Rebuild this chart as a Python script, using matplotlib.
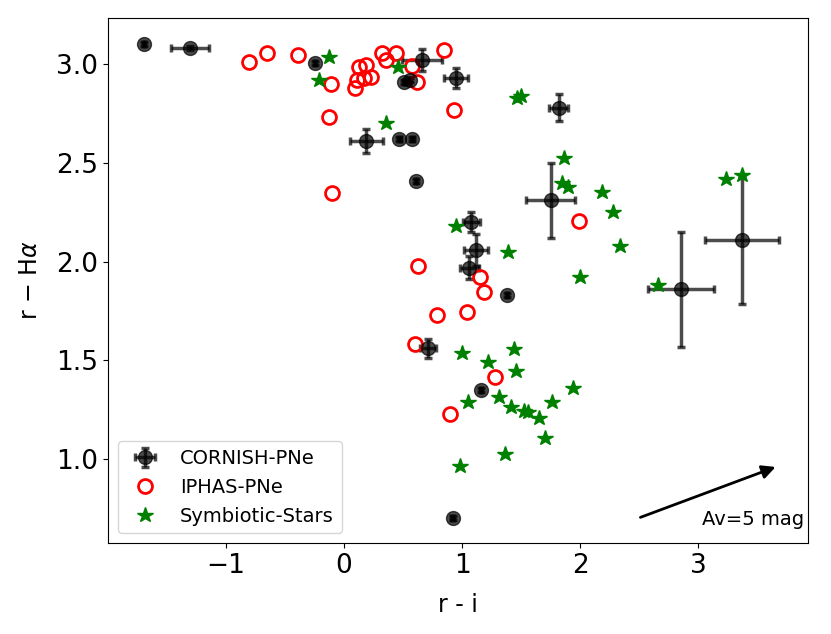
import matplotlib
matplotlib.use('Agg')
import matplotlib.pyplot as plt

# CORNISH-PNe (with errors)
cornish_x = [-1.695, -1.305, -0.246, 0.51, 0.56, 0.66, 0.95, 0.19, 0.47, 0.58,
             0.61, 1.82, 1.75, 1.08, 1.12, 1.06, 1.38, 0.71, 1.16, 0.92,
             2.856, 3.373]
cornish_y = [3.10, 3.08, 3.005, 2.91, 2.92, 3.02, 2.93, 2.61, 2.62, 2.62,
             2.41, 2.78, 2.31, 2.20, 2.06, 1.97, 1.83, 1.56, 1.35, 0.70,
             1.86, 2.11]
cornish_xerr = [0.01, 0.16, 0.01, 0.01, 0.01, 0.17, 0.10, 0.14, 0.01, 0.01,
                0.01, 0.08, 0.21, 0.07, 0.10, 0.08, 0.01, 0.07, 0.01, 0.01,
                0.28, 0.31]
cornish_yerr = [0.01, 0.01, 0.01, 0.01, 0.01, 0.055, 0.05, 0.06, 0.01, 0.01,
                0.01, 0.07, 0.19, 0.05, 0.08, 0.06, 0.01, 0.05, 0.01, 0.01,
                0.29, 0.325]

# IPHAS-PNe
iphas_x = [-0.805, -0.65, -0.39, -0.11, -0.13, -0.10, 0.09, 0.13, 0.19, 0.11,
           0.17, 0.23, 0.32, 0.36, 0.44, 0.58, 0.62, 0.85, 0.93, 1.99,
           0.63, 1.15, 1.19, 0.79, 1.04, 0.60, 1.28, 0.90]
iphas_y = [3.01, 3.055, 3.045, 2.90, 2.73, 2.345, 2.88, 2.985, 2.995, 2.92,
           2.93, 2.935, 3.055, 3.02, 3.055, 2.99, 2.91, 3.07, 2.77, 2.205,
           1.98, 1.92, 1.845, 1.73, 1.745, 1.585, 1.415, 1.23]

# Symbiotic stars
symb_x = [-0.13, -0.21, 0.36, 0.46, 1.465, 1.50, 1.865, 1.85, 1.90, 2.19,
          2.28, 2.34, 3.24, 3.37, 0.95, 1.39, 2.00, 2.66, 1.00, 1.22,
          1.44, 1.46, 1.94, 1.05, 1.31, 1.415, 1.525, 1.56, 1.65, 1.76,
          1.70, 1.365, 0.98]
symb_y = [3.035, 2.92, 2.70, 2.985, 2.83, 2.84, 2.525, 2.40, 2.38, 2.35,
          2.25, 2.08, 2.42, 2.44, 2.18, 2.05, 1.92, 1.88, 1.535, 1.49,
          1.555, 1.445, 1.36, 1.29, 1.315, 1.265, 1.245, 1.24, 1.21, 1.29,
          1.105, 1.025, 0.965]

# extinction vector
av_start = (2.49, 0.70)
av_end = (3.68, 0.965)

fig = plt.figure(figsize=(8.31, 6.34), dpi=100)
ax = fig.add_axes([0.130, 0.1435, 0.842, 0.828])

h1 = ax.errorbar(cornish_x, cornish_y, xerr=cornish_xerr, yerr=cornish_yerr,
                 fmt='o', color='k', ms=10, elinewidth=2.5, capsize=3,
                 capthick=2.5, alpha=0.7, label='CORNISH-PNe')
h2, = ax.plot(iphas_x, iphas_y, 'o', mfc='none', mec='red', mew=2, ms=10,
              ls='none', label='IPHAS-PNe')
h3, = ax.plot(symb_x, symb_y, '*', color='green', ms=11.5, ls='none',
              label='Symbiotic-Stars')

ax.annotate('', xy=av_end, xytext=av_start,
            arrowprops=dict(arrowstyle='-|>', color='k', lw=2,
                            mutation_scale=20))
ax.text(3.9, 0.665, 'Av=5 mag', fontsize=14, ha='right')

ax.set_xlim(-2.0, 3.93)
ax.set_ylim(0.575, 3.233)
ax.set_xticks([-1, 0, 1, 2, 3])
ax.set_yticks([1.0, 1.5, 2.0, 2.5, 3.0])
ax.tick_params(labelsize=19)
ax.set_xlabel('r - i', fontsize=17, labelpad=10)
ax.set_ylabel(r'r $-$ H$\alpha$', fontsize=17, labelpad=10)
ax.legend(handles=[h1, h2, h3], loc='lower left', fontsize=14)

fig.savefig('out.png', dpi=100)
